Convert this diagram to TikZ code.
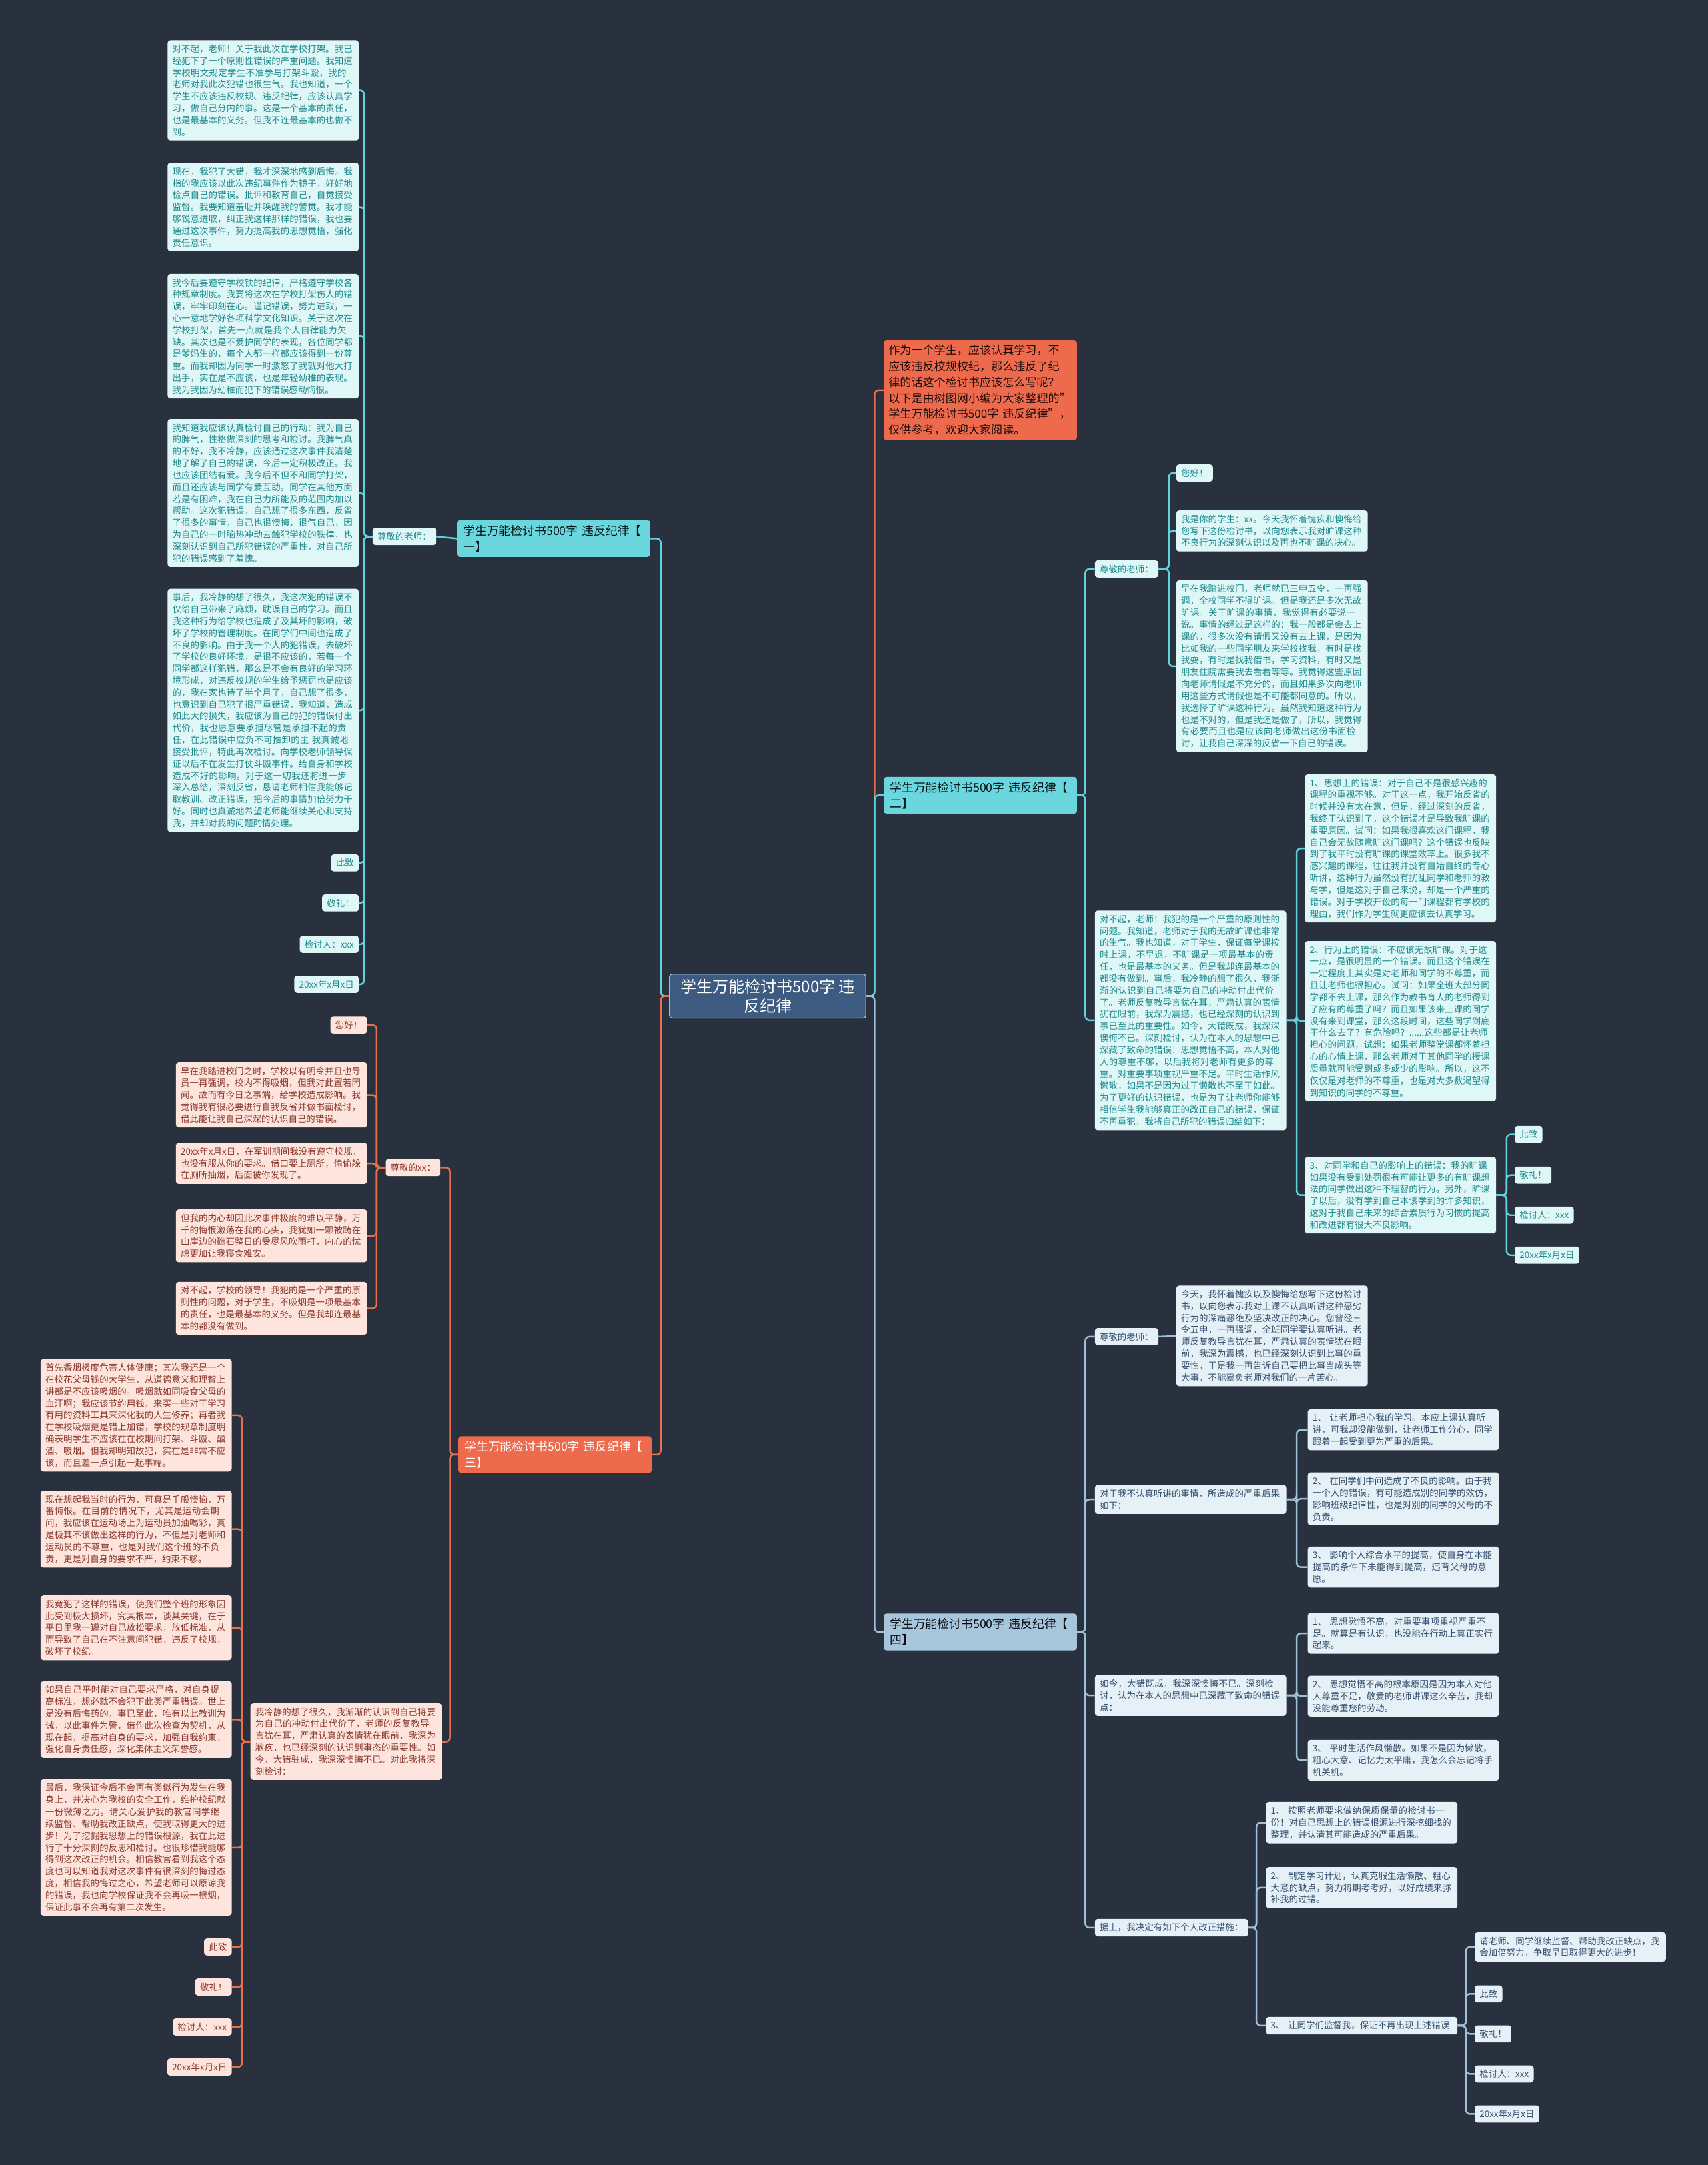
\documentclass[tikz,border=0pt]{standalone}
\usepackage{fontspec}
\setmainfont{Noto Sans CJK SC}
\XeTeXlinebreaklocale "zh"
\XeTeXlinebreakskip=0pt plus 1pt
\usetikzlibrary{arrows.meta, positioning, calc}

\definecolor{bgc}{HTML}{29313F}
\definecolor{rootfill}{HTML}{3D5B80}
\definecolor{tealline}{HTML}{5ED3DD}
\definecolor{tealfill}{HTML}{E0F7F8}
\definecolor{tealtext}{HTML}{1E8A8E}
\definecolor{tealbranch}{HTML}{6AD6DE}
\definecolor{orgline}{HTML}{E8704F}
\definecolor{orgfill}{HTML}{FDE4DD}
\definecolor{orgtext}{HTML}{8B3A2E}
\definecolor{orgbranch}{HTML}{EE6A4C}
\definecolor{slateline}{HTML}{9DC1D9}
\definecolor{slatefill}{HTML}{E6F0F7}
\definecolor{slatetext}{HTML}{34506E}
\definecolor{slatebranch}{HTML}{A7C6DC}

\begin{document}
\begin{tikzpicture}[x=1mm, y=-1mm,
    leaf/.style={rounded corners=2mm, inner xsep=3.5mm, inner ysep=3.2mm, align=left,
      font=\fontsize{18.5}{24.5}\selectfont},
    wide/.style={text width=131.5mm},
    tleaf/.style={leaf, fill=tealfill, text=tealtext},
    oleaf/.style={leaf, fill=orgfill, text=orgtext},
    sleaf/.style={leaf, fill=slatefill, text=slatetext},
    branch/.style={rounded corners=2mm, inner xsep=4.5mm, inner ysep=3.5mm, align=left,
      text width=131mm, font=\fontsize{24.5}{33}\selectfont},
    tline/.style={draw=tealline, line width=1.2mm, rounded corners=3mm},
    oline/.style={draw=orgline, line width=1.2mm, rounded corners=3mm},
    sline/.style={draw=slateline, line width=1.2mm, rounded corners=3mm}]

  % background
  \fill[bgc] (0,0) rectangle (1237,1568);

  % centre and first level
  \node[fill=rootfill, text=white, draw=slateline, line width=0.6mm, rounded corners=2mm,
    inner xsep=8mm, inner ysep=3.5mm, align=center, font=\fontsize{33}{40}\selectfont]
    (root) at (556,721.5) {学生万能检讨书500字 违\\反纪律};
  \node[branch, fill=orgbranch, text=black!80!orgtext, text width=133mm, inner xsep=3.5mm,
    font=\fontsize{23.5}{32.6}\selectfont, anchor=west] (intro) at (640,282.5)
    {作为一个学生，应该认真学习，不\\应该违反校规校纪，那么违反了纪\\律的话这个检讨书应该怎么写呢？\\以下是由树图网小编为大家整理的"\\学生万能检讨书500字 违反纪律"，\\仅供参考，欢迎大家阅读。};
  \node[branch, fill=tealbranch, text=black!85!tealtext, anchor=east] (b1) at (471,390) {学生万能检讨书500字 违反纪律【\\一】};
  \node[branch, fill=tealbranch, text=black!85!tealtext, anchor=west] (b2) at (640,576) {学生万能检讨书500字 违反纪律【\\二】};
  \node[branch, fill=orgbranch, text=white, anchor=east] (b3) at (472,1053.5) {学生万能检讨书500字 违反纪律【\\三】};
  \node[branch, fill=slatebranch, text=black!85!slatetext, anchor=west] (b4) at (640,1182) {学生万能检讨书500字 违反纪律【\\四】};

  \foreach \b/\c in {intro/oline, b2/tline, b4/sline}
    \draw[\c] (root.east) -- ++(6,0) |- (\b.west);
  \foreach \b/\c in {b1/tline, b3/oline}
    \draw[\c] (root.west) -- ++(-6,0) |- (\b.east);

  % branch one
  \node[tleaf, anchor=east] (s1t) at (316,388.5) {尊敬的老师：};
  \node[tleaf, wide, anchor=east] (s1a) at (260,65.5) {对不起，老师！关于我此次在学校打架。我已经犯下了一个原则性错误的严重问题。我知道学校明文规定学生不准参与打架斗殴，我的老师对我此次犯错也很生气。我也知道，一个学生不应该违反校规、违反纪律，应该认真学习，做自己分内的事。这是一个基本的责任，也是最基本的义务。但我不连最基本的也做不到。};
  \node[tleaf, wide, anchor=east] (s1b) at (260,150) {现在，我犯了大错，我才深深地感到后悔。我指的我应该以此次违纪事件作为镜子，好好地检点自己的错误。批评和教育自己，自觉接受监督。我要知道羞耻并唤醒我的警觉。我才能够锐意进取，纠正我这样那样的错误，我也要通过这次事件，努力提高我的思想觉悟，强化责任意识。};
  \node[tleaf, wide, anchor=east] (s1c) at (260,243.5) {我今后要遵守学校铁的纪律，严格遵守学校各种规章制度。我要将这次在学校打架伤人的错误，牢牢印刻在心。谨记错误，努力进取，一心一意地学好各项科学文化知识。关于这次在学校打架，首先一点就是我个人自律能力欠缺。其次也是不爱护同学的表现，各位同学都是爹妈生的，每个人都一样都应该得到一份尊重。而我却因为同学一时激怒了我就对他大打出手，实在是不应该，也是年轻幼稚的表现。我为我因为幼稚而犯下的错误感动悔恨。};
  \node[tleaf, wide, anchor=east] (s1d) at (260,357) {我知道我应该认真检讨自己的行动：我为自己的脾气，性格做深刻的思考和检讨。我脾气真的不好，我不冷静，应该通过这次事件我清楚地了解了自己的错误，今后一定积极改正。我也应该团结有爱。我今后不但不和同学打架，而且还应该与同学有爱互助。同学在其他方面若是有困难，我在自己力所能及的范围内加以帮助。这次犯错误，自己想了很多东西，反省了很多的事情，自己也很懊悔，很气自己，因为自己的一时脑热冲动去触犯学校的铁律，也深刻认识到自己所犯错误的严重性，对自己所犯的错误感到了羞愧。};
  \node[tleaf, wide, anchor=east] (s1e) at (260,514.5) {事后，我冷静的想了很久，我这次犯的错误不仅给自己带来了麻烦，耽误自己的学习。而且我这种行为给学校也造成了及其坏的影响，破坏了学校的管理制度。在同学们中间也造成了不良的影响。由于我一个人的犯错误，去破坏了学校的良好环境，是很不应该的，若每一个同学都这样犯错，那么是不会有良好的学习环境形成，对违反校规的学生给予惩罚也是应该的，我在家也待了半个月了，自己想了很多，也意识到自己犯了很严重错误，我知道，造成如此大的损失，我应该为自己的犯的错误付出代价，我也愿意要承担尽管是承担不起的责任，在此错误中应负不可推卸的主 我真诚地接受批评，特此再次检讨。向学校老师领导保证以后不在发生打仗斗殴事件。给自身和学校造成不好的影响。对于这一切我还将进一步深入总结，深刻反省，恳请老师相信我能够记取教训、改正错误，把今后的事情加倍努力干好。同时也真诚地希望老师能继续关心和支持我，并却对我的问题酌情处理。};
  \node[tleaf, anchor=east] (s1z) at (260,625) {此致};
  \node[tleaf, anchor=east] (s1j) at (260,654) {敬礼！};
  \node[tleaf, anchor=east] (s1n) at (260,684) {检讨人：xxx};
  \node[tleaf, anchor=east] (s1d8) at (260,713) {20xx年x月x日};
  \draw[tline] (b1.west) -- (s1t.east);
  \foreach \c in {s1a,s1b,s1c,s1d,s1e,s1z,s1j,s1n,s1d8}
    \draw[tline] (s1t.west) -- ++(-6,0) |- (\c.east);

  % branch two
  \node[tleaf, anchor=west] (s2t) at (793,412) {尊敬的老师：};
  \node[tleaf, anchor=west] (s2hi) at (852,342.5) {您好！};
  \node[tleaf, wide, anchor=west] (s2a) at (852,384.5) {我是你的学生：xx。今天我怀着愧疚和懊悔给您写下这份检讨书，以向您表示我对旷课这种不良行为的深刻认识以及再也不旷课的决心。};
  \node[tleaf, wide, anchor=west] (s2b) at (852,482.5) {早在我踏进校门，老师就已三申五令，一再强调，全校同学不得旷课。但是我还是多次无故旷课。关于旷课的事情，我觉得有必要说一说。事情的经过是这样的：我一般都是会去上课的，很多次没有请假又没有去上课，是因为比如我的一些同学朋友来学校找我，有时是找我耍，有时是找我借书，学习资料，有时又是朋友住院需要我去看看等等。我觉得这些原因向老师请假是不充分的，而且如果多次向老师用这些方式请假也是不可能都同意的。所以，我选择了旷课这种行为。虽然我知道这种行为也是不对的，但是我还是做了，所以，我觉得有必要而且也是应该向老师做出这份书面检讨，让我自己深深的反省一下自己的错误。};
  \node[tleaf, wide, anchor=west] (s2c) at (793,739) {对不起，老师！我犯的是一个严重的原则性的问题。我知道，老师对于我的无故旷课也非常的生气。我也知道，对于学生，保证每堂课按时上课，不早退，不旷课是一项最基本的责任，也是最基本的义务。但是我却连最基本的都没有做到。事后，我冷静的想了很久，我渐渐的认识到自己将要为自己的冲动付出代价了。老师反复教导言犹在耳，严肃认真的表情犹在眼前，我深为震撼，也已经深刻的认识到事已至此的重要性。如今，大错既成，我深深懊悔不已。深刻检讨，认为在本人的思想中已深藏了致命的错误：思想觉悟不高，本人对他人的尊重不够，以后我将对老师有更多的尊重。对重要事项重视严重不足。平时生活作风懒散，如果不是因为过于懒散也不至于如此。为了更好的认识错误，也是为了让老师你能够相信学生我能够真正的改正自己的错误，保证不再重犯，我将自己所犯的错误归结如下：};
  \node[tleaf, wide, anchor=west] (s2i1) at (945,614.5) {1、思想上的错误：对于自己不是很感兴趣的课程的重视不够。对于这一点，我开始反省的时候并没有太在意，但是，经过深刻的反省，我终于认识到了，这个错误才是导致我旷课的重要原因。试问：如果我很喜欢这门课程，我自己会无故随意旷这门课吗？这个错误也反映到了我平时没有旷课的课堂效率上。很多我不感兴趣的课程，往往我并没有自始自终的专心听讲，这种行为虽然没有扰乱同学和老师的教与学，但是这对于自己来说，却是一个严重的错误。对于学校开设的每一门课程都有学校的理由，我们作为学生就更应该去认真学习。};
  \node[tleaf, wide, anchor=west] (s2i2) at (945,739.5) {2、行为上的错误：不应该无故旷课。对于这一点，是很明显的一个错误。而且这个错误在一定程度上其实是对老师和同学的不尊重，而且让老师也很担心。试问：如果全班大部分同学都不去上课，那么作为教书育人的老师得到了应有的尊重了吗？而且如果该来上课的同学没有来到课堂，那么这段时间，这些同学到底干什么去了？有危险吗？......这些都是让老师担心的问题，试想：如果老师整堂课都怀着担心的心情上课，那么老师对于其他同学的授课质量就可能受到或多或少的影响。所以，这不仅仅是对老师的不尊重，也是对大多数渴望得到知识的同学的不尊重。};
  \node[tleaf, wide, anchor=west] (s2i3) at (945,865.5) {3、对同学和自己的影响上的错误：我的旷课如果没有受到处罚很有可能让更多的有旷课想法的同学做出这种不理智的行为。另外，旷课了以后，没有学到自己本该学到的许多知识，这对于我自己未来的综合素质行为习惯的提高和改进都有很大不良影响。};
  \node[tleaf, anchor=west] (s2z) at (1097,821.5) {此致};
  \node[tleaf, anchor=west] (s2j) at (1097,851) {敬礼！};
  \node[tleaf, anchor=west] (s2n) at (1097,880) {检讨人：xxx};
  \node[tleaf, anchor=west] (s2d8) at (1097,909) {20xx年x月x日};
  \foreach \c in {s2t,s2c}
    \draw[tline] (b2.east) -- ++(6,0) |- (\c.west);
  \foreach \c in {s2hi,s2a,s2b}
    \draw[tline] (s2t.east) -- ++(7.5,0) |- (\c.west);
  \foreach \c in {s2i1,s2i2,s2i3}
    \draw[tline] (s2c.east) -- ++(7.5,0) |- (\c.west);
  \foreach \c in {s2z,s2j,s2n,s2d8}
    \draw[tline] (s2i3.east) -- ++(7.5,0) |- (\c.west);

  % branch three
  \node[oleaf, anchor=east] (s3t) at (319,845.5) {尊敬的xx：};
  \node[oleaf, anchor=east] (s3hi) at (266,742.5) {您好！};
  \node[oleaf, wide, anchor=east] (s3a) at (266,793) {早在我踏进校门之时，学校以有明令并且也导员一再强调，校内不得吸烟，但我对此置若罔闻。故而有今日之事端，给学校造成影响。我觉得我有很必要进行自我反省并做书面检讨，借此能让我自己深深的认识自己的错误。};
  \node[oleaf, wide, anchor=east] (s3b) at (266,842.5) {20xx年x月x日，在军训期间我没有遵守校规，也没有服从你的要求。借口要上厕所，偷偷躲在厕所抽烟，后面被你发现了。};
  \node[oleaf, wide, anchor=east] (s3c) at (266,895) {但我的内心却因此次事件极度的难以平静，万千的悔恨激荡在我的心头，我犹如一颗被踌在山崖边的礁石整日的受尽风吹雨打，内心的忧虑更加让我寝食难安。};
  \node[oleaf, wide, anchor=east] (s3d) at (266,947.5) {对不起，学校的领导！我犯的是一个严重的原则性的问题，对于学生，不吸烟是一项最基本的责任，也是最基本的义务。但是我却连最基本的都没有做到。};
  \node[oleaf, wide, anchor=east] (s3e) at (320,1261.5) {我冷静的想了很久，我渐渐的认识到自己将要为自己的冲动付出代价了，老师的反复教导言犹在耳，严肃认真的表情犹在眼前，我深为歉疚，也已经深刻的认识到事态的重要性。如今，大错驻成，我深深懊悔不已。对此我将深刻检讨：};
  \node[oleaf, wide, anchor=east] (s3f) at (168,1025) {首先香烟极度危害人体健康；其次我还是一个在校花父母钱的大学生，从道德意义和理智上讲都是不应该吸烟的。吸烟就如同吸食父母的血汗啊；我应该节约用钱，来买一些对于学习有用的资料工具来深化我的人生修养；再者我在学校吸烟更是错上加错，学校的规章制度明确表明学生不应该在在校期间打架、斗殴、酗酒、吸烟。但我却明知故犯，实在是非常不应该，而且差一点引起一起事端。};
  \node[oleaf, wide, anchor=east] (s3g) at (168,1107.5) {现在想起我当时的行为，可真是千般懊恼，万番悔恨。在目前的情况下，尤其是运动会期间，我应该在运动场上为运动员加油喝彩，真是极其不该做出这样的行为，不但是对老师和运动员的不尊重，也是对我们这个班的不负责，更是对自身的要求不严，约束不够。};
  \node[oleaf, wide, anchor=east] (s3h) at (168,1179) {我竟犯了这样的错误，使我们整个班的形象因此受到极大损坏，究其根本，谈其关键，在于平日里我一罐对自己放松要求，放低标准，从而导致了自己在不注意间犯错，违反了校规，破坏了校纪。};
  \node[oleaf, wide, anchor=east] (s3i) at (168,1245.5) {如果自己平时能对自己要求严格，对自身提高标准，想必就不会犯下此类严重错误。世上是没有后悔药的，事已至此，唯有以此教训为诫，以此事件为警，借作此次检查为契机，从现在起，提高对自身的要求，加强自我约束，强化自身责任感，深化集体主义荣誉感。};
  \node[oleaf, wide, anchor=east] (s3j) at (168,1338) {最后，我保证今后不会再有类似行为发生在我身上，并决心为我校的安全工作，维护校纪献一份微薄之力。请关心爱护我的教官同学继续监督、帮助我改正缺点，使我取得更大的进步！为了挖掘我思想上的错误根源，我在此进行了十分深刻的反思和检讨。也很珍惜我能够得到这次改正的机会。相信教官看到我这个态度也可以知道我对这次事件有很深刻的悔过态度，相信我的悔过之心，希望老师可以原谅我的错误，我也向学校保证我不会再吸一根烟，保证此事不会再有第二次发生。};
  \node[oleaf, anchor=east] (s3z) at (168,1410) {此致};
  \node[oleaf, anchor=east] (s3k) at (168,1439) {敬礼！};
  \node[oleaf, anchor=east] (s3n) at (168,1468) {检讨人：xxx};
  \node[oleaf, anchor=east] (s3d8) at (168,1497) {20xx年x月x日};
  \foreach \c in {s3t,s3e}
    \draw[oline] (b3.west) -- ++(-6,0) |- (\c.east);
  \foreach \c in {s3hi,s3a,s3b,s3c,s3d}
    \draw[oline] (s3t.west) -- ++(-6.5,0) |- (\c.east);
  \foreach \c in {s3f,s3g,s3h,s3i,s3j,s3z,s3k,s3n,s3d8}
    \draw[oline] (s3e.west) -- ++(-6,0) |- (\c.east);

  % branch four
  \node[sleaf, anchor=west] (s4t) at (793,968) {尊敬的老师：};
  \node[sleaf, wide, anchor=west] (s4a) at (852,967.5) {今天，我怀着愧疚以及懊悔给您写下这份检讨书，以向您表示我对上课不认真听讲这种恶劣行为的深痛恶绝及坚决改正的决心。您曾经三令五申，一再强调，全班同学要认真听讲。老师反复教导言犹在耳，严肃认真的表情犹在眼前，我深为震撼，也已经深刻认识到此事的重要性，于是我一再告诉自己要把此事当成头等大事，不能辜负老师对我们的一片苦心。};
  \node[sleaf, wide, anchor=west] (s4b) at (793,1086) {对于我不认真听讲的事情，所造成的严重后果如下：};
  \node[sleaf, wide, anchor=west] (s4b1) at (947,1035.5) {1、 让老师担心我的学习。本应上课认真听讲，可我却没能做到，让老师工作分心，同学跟着一起受到更为严重的后果。};
  \node[sleaf, wide, anchor=west] (s4b2) at (947,1085.5) {2、 在同学们中间造成了不良的影响。由于我一个人的错误，有可能造成别的同学的效仿，影响班级纪律性，也是对别的同学的父母的不负责。};
  \node[sleaf, wide, anchor=west] (s4b3) at (947,1135) {3、 影响个人综合水平的提高，使自身在本能提高的条件下未能得到提高，违背父母的意愿。};
  \node[sleaf, wide, anchor=west] (s4c) at (793,1228) {如今，大错既成，我深深懊悔不已。深刻检讨，认为在本人的思想中已深藏了致命的错误点：};
  \node[sleaf, wide, anchor=west] (s4c1) at (947,1183) {1、 思想觉悟不高，对重要事项重视严重不足。就算是有认识，也没能在行动上真正实行起来。};
  \node[sleaf, wide, anchor=west] (s4c2) at (947,1228.5) {2、 思想觉悟不高的根本原因是因为本人对他人尊重不足，敬爱的老师讲课这么辛苦，我却没能尊重您的劳动。};
  \node[sleaf, wide, anchor=west] (s4c3) at (947,1275) {3、 平时生活作风懒散。如果不是因为懒散，粗心大意、记忆力太平庸，我怎么会忘记将手机关机。};
  \node[sleaf, anchor=west] (s4d) at (793,1396) {据上，我决定有如下个人改正措施：};
  \node[sleaf, wide, anchor=west] (s4d1) at (917,1320) {1、 按照老师要求做纳保质保量的检讨书一份！对自己思想上的错误根源进行深挖细找的整理，并认清其可能造成的严重后果。};
  \node[sleaf, wide, anchor=west] (s4d2) at (917,1367) {2、 制定学习计划，认真克服生活懒散、粗心大意的缺点，努力将期考考好，以好成绩来弥补我的过错。};
  \node[sleaf, wide, anchor=west] (s4d3) at (917,1467) {3、 让同学们监督我，保证不再出现上述错误};
  \node[sleaf, wide, anchor=west] (s4e) at (1068,1410) {请老师、同学继续监督、帮助我改正缺点，我会加倍努力，争取早日取得更大的进步！};
  \node[sleaf, anchor=west] (s4z) at (1068,1444) {此致};
  \node[sleaf, anchor=west] (s4j) at (1068,1473) {敬礼！};
  \node[sleaf, anchor=west] (s4n) at (1068,1502) {检讨人：xxx};
  \node[sleaf, anchor=west] (s4d8) at (1068,1531) {20xx年x月x日};
  \foreach \c in {s4t,s4b,s4c,s4d}
    \draw[sline] (b4.east) -- ++(6,0) |- (\c.west);
  \draw[sline] (s4t.east) -- (s4a.west);
  \foreach \c in {s4b1,s4b2,s4b3}
    \draw[sline] (s4b.east) -- ++(7.5,0) |- (\c.west);
  \foreach \c in {s4c1,s4c2,s4c3}
    \draw[sline] (s4c.east) -- ++(7.5,0) |- (\c.west);
  \foreach \c in {s4d1,s4d2,s4d3}
    \draw[sline] (s4d.east) -- ++(6,0) |- (\c.west);
  \foreach \c in {s4e,s4z,s4j,s4n,s4d8}
    \draw[sline] (s4d3.east) -- ++(6,0) |- (\c.west);
\end{tikzpicture}
\end{document}
